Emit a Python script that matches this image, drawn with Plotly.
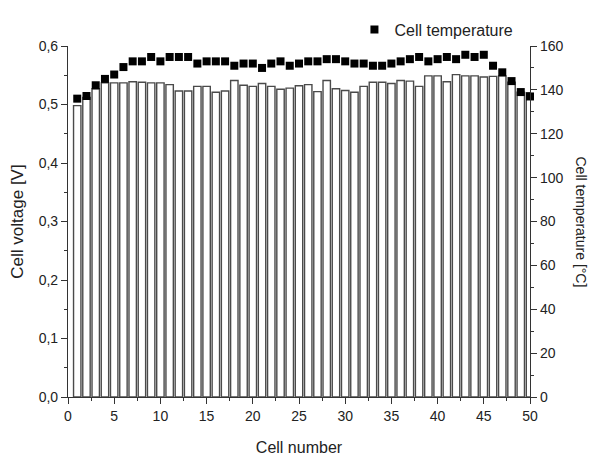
import plotly.graph_objects as go

cells = list(range(1, 51))
voltage = [0.498, 0.512, 0.527, 0.537, 0.537, 0.537, 0.539, 0.538, 0.537, 0.537,
           0.534, 0.523, 0.523, 0.531, 0.531, 0.521, 0.523, 0.541, 0.533, 0.531,
           0.536, 0.531, 0.526, 0.528, 0.532, 0.534, 0.522, 0.541, 0.527, 0.524,
           0.521, 0.531, 0.538, 0.538, 0.536, 0.541, 0.540, 0.531, 0.549, 0.549,
           0.539, 0.551, 0.549, 0.549, 0.547, 0.548, 0.549, 0.538, 0.521, 0.520]
temperature = [136.0, 137.2, 142.1, 145.0, 147.0, 150.4, 153.0, 153.0, 155.0, 153.0,
               155.0, 155.0, 155.0, 152.0, 153.0, 153.0, 153.0, 151.0, 152.0, 152.0,
               150.0, 152.0, 153.0, 151.0, 152.0, 153.0, 153.0, 154.0, 154.0, 153.0,
               152.0, 152.0, 151.0, 151.0, 152.0, 153.0, 154.0, 155.0, 153.0, 154.0,
               155.0, 154.0, 156.0, 155.0, 156.0, 151.0, 148.0, 144.0, 139.0, 137.0]

FONT = "Liberation Sans, Arial, sans-serif"
AX = "#333333"

fig = go.Figure()
fig.add_trace(go.Bar(
    x=cells, y=voltage, width=0.8,
    marker=dict(color="white", line=dict(color="#4a4a4a", width=1.4)),
    showlegend=False, yaxis="y",
))
fig.add_trace(go.Scatter(
    x=cells, y=temperature, mode="markers", name="Cell temperature",
    marker=dict(symbol="square", size=8, color="black"),
    yaxis="y2", cliponaxis=False,
))

fig.update_layout(
    width=591, height=465,
    margin=dict(l=68, r=61, t=23, b=50),
    paper_bgcolor="white", plot_bgcolor="white",
    separators=",.",
    font=dict(family=FONT, size=13, color="#222222"),
    xaxis=dict(
        range=[0, 50], tickmode="linear", tick0=0, dtick=5,
        ticks="outside", ticklen=6, tickcolor=AX, tickwidth=1,
        minor=dict(ticks="outside", ticklen=3, dtick=2.5, tickcolor=AX),
        showline=True, linecolor=AX, linewidth=1.2, showgrid=False, zeroline=False,
        title=dict(text="Cell number", font=dict(size=16), standoff=18),
        tickfont=dict(size=14),
    ),
    yaxis=dict(
        range=[0, 0.6], tickmode="linear", tick0=0, dtick=0.1, tickformat=".1f",
        ticks="outside", ticklen=6, tickcolor=AX,
        minor=dict(ticks="outside", ticklen=3, dtick=0.05, tickcolor=AX),
        showline=True, linecolor=AX, linewidth=1.2, showgrid=False, zeroline=False,
        title=dict(text="Cell voltage [V]", font=dict(size=17), standoff=10),
        tickfont=dict(size=14),
    ),
    yaxis2=dict(
        range=[0, 160], tickmode="linear", tick0=0, dtick=20,
        overlaying="y", side="right",
        ticks="outside", ticklen=6, tickcolor=AX,
        minor=dict(ticks="outside", ticklen=3, dtick=10, tickcolor=AX),
        showline=True, linecolor=AX, linewidth=1.2, showgrid=False, zeroline=False,
        tickfont=dict(size=14),
    ),
    legend=dict(x=0.62, y=1.047, xanchor="left", yanchor="middle",
                bgcolor="rgba(0,0,0,0)", font=dict(size=16)),
    annotations=[dict(
        text="Cell temperature [°C]", textangle=90, showarrow=False,
        xref="paper", yref="paper", x=1.0, y=0.5, xanchor="left", yanchor="middle",
        xshift=41, font=dict(size=14),
    )],
)

fig.write_html("out.html")
